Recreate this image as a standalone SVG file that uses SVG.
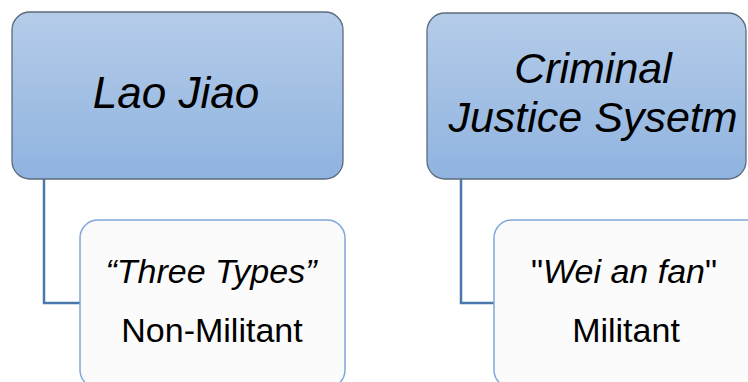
<svg xmlns="http://www.w3.org/2000/svg" width="748" height="382" viewBox="0 0 748 382">
<defs>
<linearGradient id="pg" x1="0" y1="0" x2="0" y2="1">
<stop offset="0" stop-color="#b5cce9"/>
<stop offset="1" stop-color="#8fb3df"/>
</linearGradient>
<style>
.parent{fill:url(#pg);stroke:#5b6b7d;stroke-width:1.3}
.child{fill:#fbfbfb;stroke:#7fa7d8;stroke-width:1.5}
.conn{fill:none;stroke:#4b78aa;stroke-width:2.5}
.pt{font-family:"Liberation Sans",Arial,sans-serif;font-style:italic;fill:#000;text-anchor:middle}
.ct{font-family:"Liberation Sans",Arial,sans-serif;fill:#000;text-anchor:middle;font-size:34px}
.it{font-style:italic}
</style>
</defs>
<rect width="748" height="382" fill="#ffffff"/>
<g id="connectors">
<path class="conn" d="M44,179 V303 H80"/>
<path class="conn" d="M461,179 V303 H494"/>
</g>
<g id="node-laojiao">
<rect class="parent" x="12" y="12" width="331" height="167" rx="18"/>
<text class="pt" x="176" y="108" font-size="44">Lao Jiao</text>
</g>
<g id="node-criminal">
<rect class="parent" x="427" y="13" width="319" height="166" rx="18"/>
<text class="pt" font-size="43"><tspan x="593" y="83">Criminal</tspan><tspan x="593" y="132">Justice Sysetm</tspan></text>
</g>
<g id="node-threetypes">
<rect class="child" x="80" y="220" width="265" height="168" rx="18"/>
<text class="ct it" x="211" y="283" font-size="32">“Three Types”</text>
<text class="ct" x="212" y="342">Non-Militant</text>
</g>
<g id="node-weianfan">
<rect class="child" x="494" y="220" width="270" height="168" rx="18"/>
<text class="ct" x="624" y="283">"<tspan class="it">Wei an fan</tspan>"</text>
<text class="ct" x="626" y="342">Militant</text>
</g>
</svg>
